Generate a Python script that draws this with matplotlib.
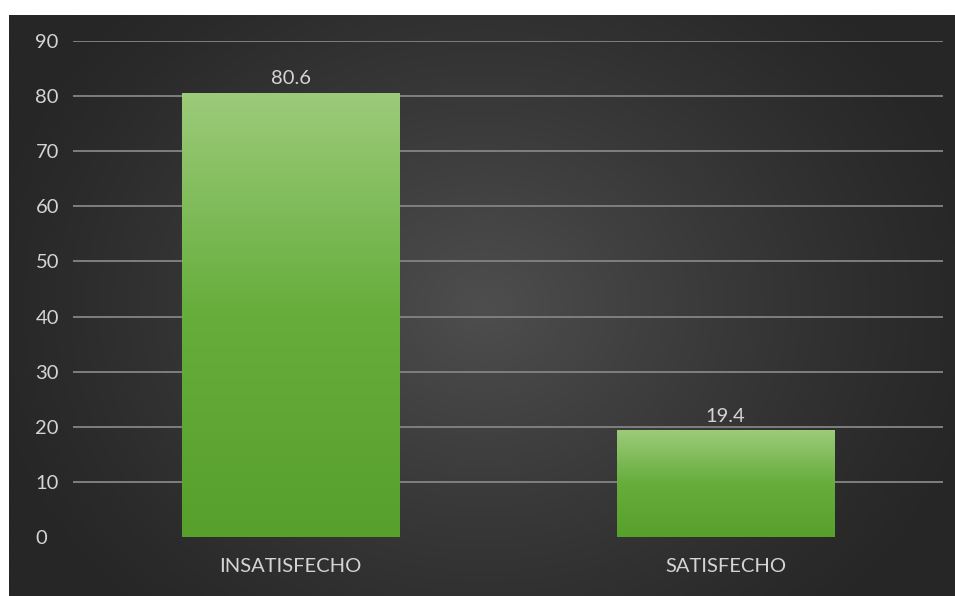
import numpy as np
import matplotlib.pyplot as plt
from matplotlib.colors import LinearSegmentedColormap

# Satisfaction survey results (percent)
categories = ["INSATISFECHO", "SATISFECHO"]
values = [80.6, 19.4]
yticks = [0, 10, 20, 30, 40, 50, 60, 70, 80, 90]

text_color = "#d4d4d4"
grid_color = "#7f7f7f"
font = "Lato"
fsize = 14.5

fig = plt.figure(figsize=(9.55, 5.96), dpi=100, facecolor="white")

# dark panel with a soft radial glow in the middle
bg = fig.add_axes([9 / 955, 0, 946 / 955, 581 / 596])
bg.set_axis_off()
h, w = 300, 480
yy, xx = np.mgrid[0:h, 0:w]
r = np.sqrt(((xx - w * 0.5) / (w * 0.55)) ** 2 + ((yy - h * 0.5) / (h * 0.75)) ** 2)
shade = np.clip(1 - r, 0, 1) ** 1.2
bg_cmap = LinearSegmentedColormap.from_list("bg", ["#262626", "#4e4e4e"])
bg.imshow(shade, cmap=bg_cmap, aspect="auto", extent=[0, 1, 0, 1], vmin=0, vmax=1)

ax = fig.add_axes([73 / 955, 59 / 596, 870 / 955, 496 / 596])
ax.patch.set_alpha(0)

for y in yticks[1:]:
    ax.axhline(y, color=grid_color, lw=1.4, zorder=1)

# bars with a vertical green gradient
bar_cmap = LinearSegmentedColormap.from_list("bar", ["#58a02c", "#66ad3c", "#9ccb7a"])
grad = np.linspace(0, 1, 256).reshape(-1, 1)
x = np.arange(len(categories))
bars = ax.bar(x, values, width=0.5, color="none", zorder=2)
for bar, v in zip(bars, values):
    x0 = bar.get_x()
    img = ax.imshow(grad, cmap=bar_cmap, aspect="auto", origin="lower",
                    extent=[x0, x0 + bar.get_width(), 0, v], zorder=2)
    img.set_clip_path(bar)
    ax.annotate(f"{v}", (bar.get_x() + bar.get_width() / 2, v),
                xytext=(0, 4), textcoords="offset points",
                ha="center", va="bottom", color=text_color,
                fontsize=fsize, family=font)
ax.set_xlim(-0.5, 1.5)
ax.set_ylim(0, 90)

ax.set_xticks(x)
ax.set_xticklabels(categories, color=text_color, fontsize=fsize, family=font)
ax.set_yticks(yticks)
ax.set_yticklabels([str(t) for t in yticks], color=text_color, fontsize=fsize,
                   family=font, ha="left")
ax.tick_params(axis="y", length=0, pad=27)
ax.tick_params(axis="x", length=0, pad=15)
for s in ax.spines.values():
    s.set_visible(False)

fig.savefig("out.png", dpi=100, facecolor="white")
